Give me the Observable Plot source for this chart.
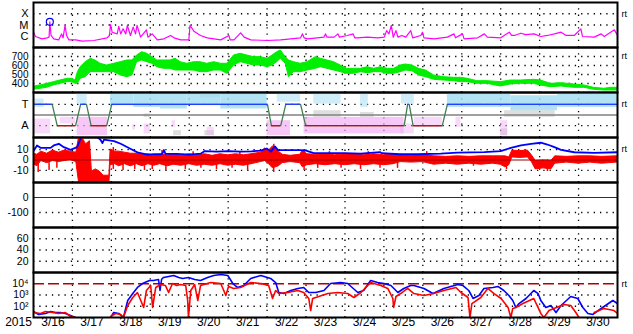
<!DOCTYPE html>
<html><head><meta charset="utf-8">
<script src="https://cdn.jsdelivr.net/npm/d3@7"></script>
<script src="https://cdn.jsdelivr.net/npm/@observablehq/plot@0.6"></script>
<style>
body{margin:0;background:#fff;}
#chart{position:relative;width:633px;height:334px;overflow:hidden;font-family:"Liberation Sans",Arial,sans-serif;}
#chart svg{position:absolute;left:0;}
</style></head><body><div id="chart"></div>
<script>
// ---- data (days are fractional March 2015 days, UTC) ----
const dayLabels = [16,17,18,19,20,21,22,23,24,25,26,27,28,29,30];
const xrayTickLabels = ["X","M","C"];
const xrayTicks = [1e-4,1e-5,1e-6];
// GOES X-ray, [day, log10 flux W/m2]
const xray = [[16.00,-5.64],[16.05,-6.02],[16.22,-6.23],[16.35,-6.14],[16.40,-6.08],[16.42,-4.72],[16.45,-5.93],[16.52,-6.23],[16.65,-6.32],[16.72,-5.79],[16.76,-6.14],[16.81,-5.04],[16.85,-5.93],[16.91,-6.32],[17.08,-6.32],[17.25,-6.44],[17.55,-6.38],[17.89,-6.14],[17.95,-5.93],[17.98,-4.96],[18.02,-5.64],[18.15,-5.79],[18.19,-5.13],[18.24,-5.79],[18.30,-5.34],[18.37,-5.79],[18.41,-5.04],[18.49,-5.93],[18.56,-5.19],[18.62,-5.79],[18.66,-5.04],[18.75,-6.08],[18.90,-5.43],[18.94,-6.08],[19.05,-5.79],[19.18,-6.32],[19.35,-6.23],[19.52,-5.93],[19.61,-6.14],[19.78,-6.32],[19.99,-6.32],[20.02,-5.04],[20.12,-5.55],[20.29,-5.93],[20.46,-6.14],[20.81,-6.32],[21.02,-5.93],[21.05,-6.32],[21.15,-6.32],[21.32,-5.70],[21.41,-6.08],[21.58,-6.32],[22.01,-6.38],[22.35,-6.32],[22.61,-6.23],[22.86,-6.14],[22.91,-5.79],[22.95,-6.14],[23.04,-6.23],[23.29,-6.14],[23.46,-6.08],[23.50,-5.79],[23.54,-6.08],[23.72,-6.08],[23.82,-5.79],[23.86,-6.08],[24.06,-5.93],[24.21,-5.79],[24.25,-6.14],[24.32,-6.14],[24.58,-6.08],[24.84,-6.14],[25.01,-6.08],[25.07,-5.5],[25.13,-5.79],[25.19,-5.04],[25.24,-6.08],[25.31,-5.5],[25.36,-6.08],[25.46,-5.93],[25.56,-6.08],[25.69,-5.5],[25.74,-6.14],[25.95,-5.93],[25.99,-5.64],[26.03,-6.14],[26.29,-6.23],[26.63,-6.08],[26.80,-5.79],[26.84,-6.14],[27.02,-5.79],[27.06,-6.23],[27.41,-6.14],[27.58,-5.79],[27.66,-6.08],[28.00,-6.14],[28.22,-5.64],[28.28,-5.93],[28.35,-5.93],[28.52,-5.73],[28.64,-5.85],[28.86,-5.79],[29.03,-6.02],[29.20,-5.93],[29.38,-5.79],[29.55,-5.64],[29.68,-5.93],[29.89,-5.93],[30.06,-5.34],[30.10,-6.02],[30.40,-6.08],[30.58,-5.79],[30.66,-6.02],[30.92,-5.43],[31.00,-5.93]];
const flares = [[16.42,-4.72]];
// solar wind speed band [day, low, high] km/s
const speedTicks = [700,600,500,400];
const speed = [[16.01,330,365],[16.18,341,378],[16.35,352,396],[16.52,378,415],[16.69,396,433],[16.87,415,452],[16.99,415,452],[17.08,396,433],[17.14,396,526],[17.21,452,581],[17.34,470,637],[17.47,526,674],[17.59,526,656],[17.72,526,619],[17.89,526,600],[18.07,526,619],[18.24,489,637],[18.41,470,656],[18.54,489,656],[18.66,637,711],[18.79,656,748],[18.92,637,730],[19.05,619,693],[19.18,581,656],[19.35,563,656],[19.52,563,656],[19.65,544,674],[19.78,544,637],[19.95,544,619],[20.12,544,637],[20.29,526,637],[20.46,526,619],[20.64,544,637],[20.81,544,619],[20.98,507,619],[21.15,600,711],[21.32,637,730],[21.49,619,711],[21.66,600,693],[21.84,600,693],[22.01,581,674],[22.14,600,711],[22.26,637,748],[22.35,674,767],[22.48,619,693],[22.56,470,656],[22.69,526,637],[22.86,526,619],[23.04,544,637],[23.25,563,693],[23.38,581,674],[23.55,563,656],[23.72,544,637],[23.89,526,600],[24.06,507,563],[24.23,507,563],[24.41,526,563],[24.58,515,581],[24.75,526,563],[24.92,526,581],[25.09,507,563],[25.26,507,563],[25.43,526,600],[25.56,544,611],[25.73,537,600],[25.90,489,563],[26.08,470,544],[26.29,441,489],[26.55,433,470],[26.80,426,463],[26.98,415,463],[27.15,415,452],[27.40,396,426],[27.66,396,426],[28.00,367,415],[28.26,389,433],[28.52,396,433],[28.86,396,441],[29.03,378,433],[29.29,359,396],[29.55,367,404],[29.89,352,389],[30.15,352,378],[30.40,330,352],[30.66,322,341],[30.83,322,352],[31.00,322,352]];
// IMF sector: T = 1, A = -1
const sectorLabels = ["T","A"];
const sector = [[16.0,1],[16.48,1],[16.61,-1],[17.08,-1],[17.21,1],[17.36,1],[17.48,-1],[17.88,-1],[18.01,1],[22.01,1],[22.11,-1],[22.35,-1],[22.48,1],[22.86,1],[22.99,-1],[25.52,-1],[25.61,1],[25.65,1],[25.75,-1],[26.5,-1],[26.63,1],[31.0,1]];
// observed polarity clouds [day1, day2, low, high]
const towardDense = [[17.98,18.58,0.87,1.95],[18.58,19.26,0.71,1.95],[19.26,19.95,0.56,1.95],[19.95,20.81,0.87,1.95],[20.81,22.0,0.56,1.95],[26.63,28.26,0.71,1.95],[28.26,29.46,0.40,1.8],[29.46,31.0,0.71,1.95]];
const towardSparse = [[16.0,16.27,0.71,1.49],[17.12,17.38,1.02,2.0],[22.26,22.86,1.2,1.95],[23.2,23.9,1.02,1.95],[24.4,24.6,0.71,1.95],[25.45,25.78,1.02,2.0]];
const awayDense = [[17.12,17.9,-1.93,-0.22],[22.0,22.6,-1.93,-0.53],[22.95,25.52,-1.77,-0.22]];
const awaySparse = [[16.0,16.44,-1.77,-0.37],[16.69,17.08,-0.84,-0.22],[18.55,18.62,-1.4,-0.9],[18.84,19.0,-1.77,-0.84],[19.56,19.65,-1.15,-0.53],[20.46,20.64,-1.93,-1.15],[25.43,25.78,-1.77,-0.84],[25.78,26.5,-1.15,-0.22],[26.85,26.98,-1.15,-0.22],[28.0,28.18,-1.93,-0.53]];
const otherSparse = [[20.29,20.8,1.6,2.0],[20.4,20.65,-1.93,-1.46],[23.2,23.9,-0.22,0.4],[24.4,24.75,-0.22,0.24],[28.0,28.18,-1.93,-1.3],[28.1,29.4,-0.22,0.4],[19.6,19.8,-1.93,-1.46],[18.84,19.0,-0.22,0.1]];
// IMF Bz core band [day, low, high], Bz excursions [day, low, high], Bt [day, nT]
const bTicks = [10,0,-10];
const bz = [[16.0,-4,6],[16.1,-6,5],[16.2,-1,8],[16.35,-3,6],[16.5,-1,9],[16.65,-2,7],[16.8,-1,9],[16.95,0,8],[17.1,-2,7],[17.17,-21.6,21.6],[17.25,-21.6,21.6],[17.35,-21.6,15],[17.45,-21.6,18],[17.5,-21.6,-11],[17.6,-21.6,-9],[17.7,-21.6,-11],[17.8,-21.6,-15],[17.95,-21.6,-15],[17.98,-5,10],[18.1,-4,8],[18.2,-6,8],[18.35,-4,7],[18.5,-6,6],[18.65,-4,6],[18.8,-6,5],[18.95,-4,5.5],[19.1,-5.5,4],[19.25,-4,5],[19.45,-6,4.5],[19.6,-4.5,5.5],[19.8,-5.5,4],[20.0,-4,5.5],[20.2,-5.5,4.5],[20.4,-4.5,5.5],[20.6,-5.5,4],[20.8,-4,5.5],[21.0,-5.5,4.5],[21.2,-4.5,5.5],[21.4,-5.5,4.5],[21.6,-4,5.5],[21.84,-2,7],[21.95,-1,11],[22.05,-4,9],[22.15,-8,13],[22.3,-6,8],[22.4,-3,5],[22.6,-2,4],[22.85,-3,5],[22.92,-7,9],[23.03,-5,5.5],[23.25,-4,5],[23.5,-5,5.5],[23.75,-4,4.5],[24.0,-5,5.5],[24.25,-4,5.5],[24.5,-5,4.5],[24.75,-4,5.5],[25.0,-5,4.5],[25.25,-4,5.5],[25.43,-2,5],[25.7,-2.5,4],[26.0,-2,5],[26.29,-4.5,3.5],[26.6,-3.5,3],[26.9,-4.5,3.5],[27.2,-3.5,3],[27.5,-4.5,3.5],[27.8,-3.5,3.5],[28.0,-4.5,3.5],[28.12,-7,3.5],[28.22,-5,2.5],[28.3,2.5,9],[28.5,2,8.5],[28.7,2.5,9],[28.8,-2,4.5],[28.9,-9,-1],[29.1,-8,-0.5],[29.3,-9,-1],[29.4,-3.5,3.5],[29.7,-2.5,3],[30.0,-3.5,3.5],[30.3,-2.5,3.5],[30.6,-3.5,3],[31.0,-2.5,3.5]];
const bzSpikes = [[16.12,-12,0],[16.4,-10,2],[16.6,-8,3],[18.05,-9,12],[18.3,-10,3],[18.6,-9,2],[18.85,-10,0],[19.05,-9,3],[19.3,0,9],[19.4,-10,0],[19.9,-9,0],[20.1,0,8],[20.3,-8,0],[20.7,-9,0],[21.1,-8,0],[21.3,0,8],[21.5,-10,0],[22.17,-12,15],[22.95,-10,10],[23.3,-8,0],[23.6,0,8],[23.9,-8,0],[24.4,-9,0],[24.6,0,8],[24.9,-8,0],[25.35,-8,0],[26.1,0,8],[27.3,-6,0],[28.15,-9,0],[29.2,-11,0]];
const bt = [[16.01,9],[16.09,13.9],[16.18,11.6],[16.31,11.6],[16.44,11.6],[16.52,13.9],[16.65,15.5],[16.78,12.3],[16.95,9.7],[17.12,12.3],[17.21,20.3],[17.25,25],[17.42,25],[17.64,22],[17.72,19.4],[17.77,16.1],[17.81,19.4],[17.94,18.7],[18.07,18],[18.24,15.5],[18.5,10.5],[18.67,7.3],[18.92,5.1],[19.1,5.5],[19.27,5.5],[19.31,6],[19.35,9.5],[19.39,5.8],[19.7,5.8],[20.0,5.2],[20.29,6],[20.4,8.5],[20.7,8],[21.0,8.5],[21.32,8],[21.6,8.2],[21.84,9],[21.99,11],[22.1,8],[22.2,13],[22.28,9.5],[22.5,9.5],[22.86,9.5],[23.0,9],[23.2,6.5],[23.6,6.5],[24.0,6.5],[24.4,6],[24.9,7.5],[24.95,6.5],[25.4,5.5],[25.86,5.5],[26.46,6],[26.89,7],[27.58,7.5],[28.0,8.4],[28.26,11.6],[28.52,13.9],[28.78,15.5],[29.03,16.5],[29.2,14.8],[29.38,12.3],[29.55,9.7],[29.89,7.4],[30.4,6.8],[31.0,7.4]];
const dstTicks = [0,-100];
const kpTicks = [60,40,20];
// electron flux [day, log10 flux]
const eTickLabels = ["10\u2074","10\u00b3","10\u00b2"];
const eTicks = [1e4,1e3,1e2];
const eBlue = [[16.0,1.53],[16.13,1.27],[16.31,1.36],[16.44,1.53],[16.57,1.44],[16.69,1.44],[16.82,1.36],[16.95,1.18],[17.08,1.0],[17.5,null],[17.98,1.0],[18.06,1.44],[18.19,1.36],[18.31,1.0],[18.42,2.51],[18.55,3.13],[18.67,3.67],[18.80,4.02],[18.98,4.29],[19.08,4.29],[19.21,4.38],[19.25,3.4],[19.29,4.4],[19.34,4.56],[19.47,4.64],[19.60,4.73],[19.73,4.56],[19.83,4.47],[19.98,4.56],[20.14,4.38],[20.29,4.29],[20.47,4.56],[20.63,4.73],[20.81,4.82],[20.99,4.73],[21.12,4.02],[21.24,3.67],[21.40,3.84],[21.58,4.47],[21.84,4.73],[22.09,4.47],[22.22,4.11],[22.30,3.22],[22.43,3.13],[22.61,3.4],[22.79,3.58],[22.94,3.67],[23.07,3.22],[23.25,3.22],[23.46,3.4],[23.63,4.02],[23.89,4.11],[24.07,4.02],[24.33,3.22],[24.48,3.4],[24.66,4.29],[24.84,4.11],[25.0,4.02],[25.18,3.84],[25.36,3.22],[25.51,3.58],[25.69,3.84],[25.77,3.84],[26.03,3.58],[26.26,3.13],[26.54,3.58],[26.90,3.93],[27.03,3.84],[27.18,3.4],[27.29,2.69],[27.44,2.96],[27.57,3.58],[27.80,3.67],[27.93,3.76],[28.08,3.4],[28.21,2.96],[28.31,2.51],[28.39,1.89],[28.47,2.24],[28.65,2.69],[28.85,3.4],[28.96,3.13],[29.03,2.51],[29.16,1.89],[29.29,2.07],[29.42,1.44],[29.55,2.07],[29.80,2.87],[29.98,2.69],[30.11,1.89],[30.24,1.36],[30.37,1.27],[30.58,1.8],[30.88,2.51],[31.0,2.24]];
const eRed = [[16.0,1.44],[16.18,1.36],[16.31,1.53],[16.49,1.44],[16.64,1.36],[16.82,1.44],[16.95,1.09],[17.08,1.0],[17.5,null],[17.98,1.09],[18.11,1.36],[18.24,1.27],[18.31,1.0],[18.42,2.07],[18.55,2.78],[18.67,3.22],[18.83,1.89],[18.90,3.4],[19.01,3.84],[19.06,1.89],[19.14,3.67],[19.26,3.93],[19.39,3.84],[19.47,3.22],[19.57,4.02],[19.68,3.84],[19.78,3.93],[19.91,3.84],[19.96,2.51],[19.98,1.0],[20.04,3.4],[20.14,3.93],[20.22,2.51],[20.29,3.84],[20.55,4.11],[20.81,4.02],[20.94,2.96],[21.01,3.76],[21.14,3.58],[21.32,3.67],[21.58,4.11],[21.84,4.02],[22.04,3.84],[22.14,2.69],[22.22,3.4],[22.30,3.13],[22.53,3.22],[22.79,3.4],[22.94,3.22],[23.07,2.69],[23.12,1.62],[23.17,2.69],[23.25,2.78],[23.56,3.13],[23.81,3.22],[24.07,3.13],[24.23,2.78],[24.41,3.22],[24.66,4.11],[24.92,3.84],[25.10,3.58],[25.23,2.69],[25.25,1.89],[25.31,2.87],[25.43,3.13],[25.61,3.58],[25.77,3.13],[26.03,2.96],[26.28,3.13],[26.54,3.4],[26.85,3.67],[26.98,3.22],[27.16,2.78],[27.21,1.0],[27.26,2.24],[27.49,2.78],[27.67,3.58],[27.83,3.13],[28.01,2.69],[28.19,1.89],[28.26,1.0],[28.31,1.8],[28.39,1.89],[28.57,2.24],[28.85,2.69],[29.03,1.36],[29.11,1.0],[29.24,1.62],[29.37,1.8],[29.62,2.16],[29.80,2.07],[29.93,1.44],[30.01,1.0],[30.2,null],[30.40,1.44],[30.65,1.8],[30.91,1.62],[31.0,1.36]];

// ---- drawing ----
const t = d => new Date(Date.UTC(2015, 2, 1) + (d - 1) * 864e5);
const chart = document.getElementById("chart");
const FONT = "Liberation Sans, Arial, Helvetica, sans-serif";
const dots = {stroke: "black", strokeWidth: 1.3, strokeDasharray: "1.3,5"};
const gridX = Plot.ruleX(d3.range(17, 31), {x: d => t(d), ...dots});
const frame = Plot.frame({stroke: "black", strokeWidth: 2});
const ylab = (ticks, labels, fs = 10.5) => Plot.text(ticks, {y: d => d, text: (d, i) => labels ? labels[i] : String(d), frameAnchor: "left", textAnchor: "end", dx: -5, fill: "black", fontSize: fs});
const rt = (v) => Plot.text([v], {y: d => d, text: () => "rt", frameAnchor: "right", textAnchor: "start", dx: 4, fill: "black", fontSize: 9});

function panel(top, y, marks, mb = 0) {
  const svg = Plot.plot({
    width: 633, height: 45 + mb, marginLeft: 33, marginRight: 16, marginTop: 0, marginBottom: mb,
    style: {background: "transparent", overflow: "visible", fontFamily: FONT, color: "black"},
    x: {type: "utc", domain: [t(16), t(31)], axis: null},
    y: {axis: null, ...y},
    marks
  });
  svg.style.top = top + "px";
  chart.appendChild(svg);
}

// 1. X-ray
panel(2, {type: "log", domain: [1e-7, 1e-3]}, [
  gridX,
  Plot.ruleY([1e-4, 1e-5], dots),
  Plot.line(xray, {x: d => t(d[0]), y: d => 10 ** d[1], stroke: "#ff00ff", strokeWidth: 1.2, clip: true}),
  Plot.dot(flares, {x: d => t(d[0]), y: d => 10 ** d[1], r: 3.5, stroke: "#0000ff", strokeWidth: 1.2}),
  ylab(xrayTicks, xrayTickLabels, 11),
  rt(1e-4),
  frame
]);
// 2. Solar wind speed
panel(47, {domain: [300, 800]}, [
  gridX,
  Plot.ruleY(speedTicks, dots),
  Plot.areaY(speed, {x: d => t(d[0]), y1: d => d[1], y2: d => d[2], fill: "#00ee00", stroke: "#00ee00", strokeWidth: 1, clip: true}),
  ylab(speedTicks, null, 10),
  rt(700),
  frame
]);
// 3. Sector polarity
const flats = [];
for (let i = 1; i < sector.length; i++) if (sector[i][1] === sector[i-1][1]) flats.push([sector[i-1][0], sector[i][0], sector[i][1]]);
const rectOpts = (fill, op) => ({x1: d => t(d[0]), x2: d => t(d[1]), y1: d => d[2], y2: d => d[3], fill, fillOpacity: op, clip: true});
panel(92, {domain: [-2.1, 2.1]}, [
  gridX,
  Plot.ruleY([1, -1], dots),
  Plot.rect(otherSparse, rectOpts("#bdbdbd", 0.5)),
  Plot.rect(towardSparse, rectOpts("#9fdcf2", 0.5)),
  Plot.rect(towardDense, rectOpts("#9fdcf2", 0.8)),
  Plot.rect(awaySparse, rectOpts("#f2aaf2", 0.45)),
  Plot.rect(awayDense, rectOpts("#f2aaf2", 0.65)),
  Plot.ruleY([0], {stroke: "#808080", strokeWidth: 1.5}),
  Plot.line(sector, {x: d => t(d[0]), y: d => d[1], stroke: "#3f7f4f", strokeWidth: 1.3}),
  Plot.ruleY(flats, {x1: d => t(d[0]), x2: d => t(d[1]), y: d => d[2], stroke: d => d[2] > 0 ? "#2040ff" : "#e00000", strokeWidth: 1.3}),
  ylab([1, -1], sectorLabels, 11),
  rt(1),
  frame
]);
// 4. IMF
panel(137, {domain: [-21.5, 21.5]}, [
  gridX,
  Plot.ruleY([10, -10], dots),
  Plot.areaY(bz, {x: d => t(d[0]), y1: d => d[1], y2: d => d[2], fill: "#ff0000", stroke: "#ff0000", strokeWidth: 1, clip: true}),
  Plot.ruleX(bzSpikes, {x: d => t(d[0]), y1: d => d[1], y2: d => d[2], stroke: "#ff0000", strokeWidth: 1.5, clip: true}),
  Plot.ruleY([0], {stroke: "#a00000", strokeWidth: 1.2}),
  Plot.line(bt, {x: d => t(d[0]), y: d => d[1], stroke: "#0000ff", strokeWidth: 1.8, clip: true}),
  ylab(bTicks),
  rt(10),
  frame
]);
// 5. Dst
panel(182, {domain: [-200, 100]}, [
  gridX,
  Plot.ruleY([-100], dots),
  Plot.ruleY([0], {stroke: "#a00000", strokeWidth: 1.2}),
  ylab(dstTicks),
  frame
]);
// 6.
panel(227, {domain: [0, 80]}, [
  gridX,
  Plot.ruleY(kpTicks, dots),
  ylab(kpTicks),
  frame
]);
// 7. Electron flux + time axis
panel(272, {type: "log", domain: [10, 1e5]}, [
  gridX,
  Plot.ruleY([1e3, 1e2], dots),
  Plot.ruleY([1e4], {stroke: "#b00000", strokeWidth: 1.3, strokeDasharray: "11,4"}),
  Plot.line(eBlue, {x: d => t(d[0]), y: d => d[1] == null ? NaN : 10 ** d[1], stroke: "#0000ff", strokeWidth: 1.6, clip: true}),
  Plot.line(eRed, {x: d => t(d[0]), y: d => d[1] == null ? NaN : 10 ** d[1], stroke: "#ff0000", strokeWidth: 1.6, clip: true}),
  ylab(eTicks, eTickLabels),
  rt(1e4),
  Plot.text(dayLabels, {x: d => t(d + 0.5), text: d => "3/" + d, frameAnchor: "bottom", dy: 8, fill: "black", fontSize: 12}),
  Plot.text(["2015"], {frameAnchor: "bottom-left", dx: -15, dy: 8, textAnchor: "middle", fill: "black", fontSize: 12}),
  frame
], 17);
</script></body></html>
